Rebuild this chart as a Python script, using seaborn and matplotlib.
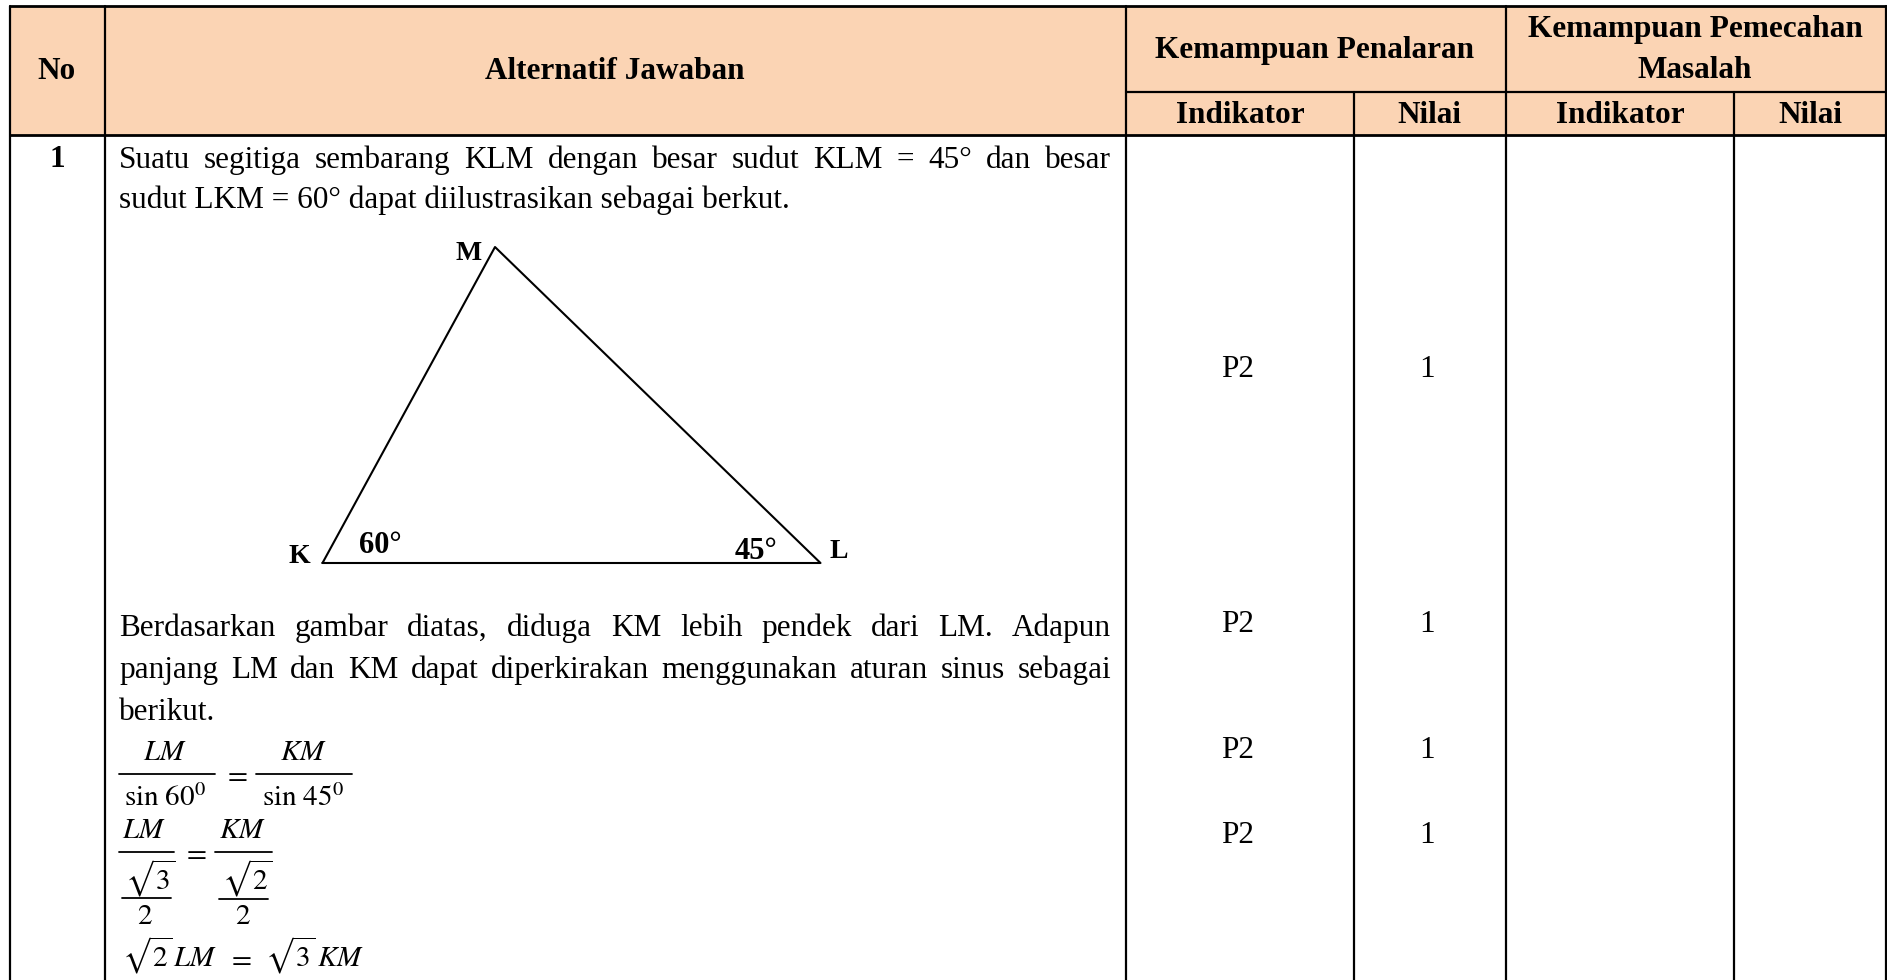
import matplotlib
matplotlib.use("Agg")
import matplotlib.pyplot as plt
import pandas as pd
import seaborn as sns

# table content
header_main = ["No", "Alternatif Jawaban"]
header_penalaran = "Kemampuan Penalaran"
header_pemecahan = ["Kemampuan Pemecahan", "Masalah"]
header_sub = ["Indikator", "Nilai", "Indikator", "Nilai"]
row_no = "1"
indikator = ["P2", "P2", "P2", "P2"]
nilai = ["1", "1", "1", "1"]
intro_lines = [
    "Suatu segitiga sembarang KLM dengan besar sudut KLM = 45° dan besar",
    "sudut LKM = 60° dapat diilustrasikan sebagai berkut.",
]
para_lines = [
    "Berdasarkan gambar diatas, diduga KM lebih pendek dari LM. Adapun",
    "panjang LM dan KM dapat diperkirakan menggunakan aturan sinus sebagai",
    "berikut.",
]

# triangle drawing
tri_x = [322.5, 495, 820.5, 322.5]
tri_y = [563, 247, 563, 563]

HEAD = "#FBD4B4"
FONT = "Liberation Serif"
FS = 22.5
LW = 1.6

sns.set_theme(style="white")
plt.rcParams["font.family"] = [FONT, "DejaVu Serif"]
plt.rcParams["mathtext.fontset"] = "stix"

fig = plt.figure(figsize=(18.87, 9.8), dpi=100)
ax = fig.add_axes([0, 0, 1, 1])
ax.set_xlim(0, 1887)
ax.set_ylim(980, 0)
ax.axis("off")

# column and row edges in pixels
cols = [10, 104.5, 1126, 1354, 1506, 1734, 1885.5]
top, mid, head_bot, bottom = 6, 92.5, 135.5, 980

ax.fill_between([cols[0], cols[-1]], top, head_bot, color=HEAD, lw=0, zorder=0)
for x in [cols[0], cols[1], cols[2], cols[4], cols[6]]:
    ax.plot([x, x], [top, bottom], color="black", lw=LW, zorder=2)
for x in [cols[3], cols[5]]:
    ax.plot([x, x], [mid, bottom], color="black", lw=LW, zorder=2)
ax.plot([cols[0], cols[-1]], [top, top], color="black", lw=LW + 0.4, zorder=2)
ax.plot([cols[0], cols[-1]], [head_bot, head_bot], color="black", lw=LW + 0.4, zorder=2)
ax.plot([cols[2], cols[-1]], [mid, mid], color="black", lw=LW, zorder=2)


def put(x, y, s, ha="center", bold=False, size=FS, **kw):
    return ax.text(x, y, s, ha=ha, va="baseline", fontsize=size,
                   fontweight="bold" if bold else "normal", color="black", **kw)


def justified(line, x0, x1, y, stretch=True):
    words = line.split(" ")
    if not stretch:
        put(x0, y, line, ha="left")
        return
    rend = fig.canvas.get_renderer()
    items = [put(0, y, w, ha="left") for w in words]
    widths = [t.get_window_extent(rend).width for t in items]
    gap = (x1 - x0 - sum(widths)) / (len(words) - 1)
    x = x0
    for t, w in zip(items, widths):
        t.set_x(x)
        x += w + gap


# header
put(57, 79, header_main[0], bold=True)
put(615, 79, header_main[1], bold=True)
put(1315, 58, header_penalaran, bold=True)
put(1695, 37, header_pemecahan[0], bold=True)
put(1695, 78, header_pemecahan[1], bold=True)
for x, s in zip([1240, 1429, 1620, 1810], header_sub):
    put(x, 123, s, bold=True)

# body
put(57, 167, row_no, bold=True)
justified(intro_lines[0], 119, 1111, 168)
justified(intro_lines[1], 119, 1111, 208, stretch=False)
justified(para_lines[0], 119, 1111, 636)
justified(para_lines[1], 119, 1111, 678)
justified(para_lines[2], 119, 1111, 720, stretch=False)

for y, ind, val in zip([377, 632, 758, 843], indikator, nilai):
    put(1238, y, ind)
    put(1427, y, val)

# triangle
tri = pd.DataFrame({"x": tri_x, "y": tri_y, "seg": range(len(tri_x))})
sns.lineplot(data=tri, x="x", y="y", sort=False, estimator=None, color="black",
             lw=1.5, ax=ax, legend=False)
ax.axis("off")
put(469, 260, "M", bold=True, size=20)
put(299.5, 563, "K", bold=True, size=20)
put(839, 558, "L", bold=True, size=20)
put(380, 553, "60°", bold=True, size=22)
put(756, 559, "45°", bold=True, size=22)

# worked equations
MF = 21


def frac_bar(x0, x1, y):
    ax.plot([x0, x1], [y, y], color="black", lw=1.3)


def eq(x, y, s, ha="center"):
    ax.text(x, y, s, ha=ha, va="baseline", fontsize=MF, color="black")


frac_bar(119, 215, 774)
eq(165, 760, r"$LM$")
eq(165, 806, r"$\sin\,60^0$")
eq(235, 782, r"$=$")
frac_bar(256, 352, 774)
eq(303, 760, r"$KM$")
eq(303, 806, r"$\sin\,45^0$")

frac_bar(119, 174, 852)
eq(144, 838, r"$LM$")
eq(194, 860, r"$=$")
frac_bar(215, 272, 852)
eq(242, 838, r"$KM$")
eq(150, 889, r"$\sqrt{3}$")
frac_bar(122, 171, 898)
eq(145, 924, r"$2$")
eq(247, 889, r"$\sqrt{2}$")
frac_bar(219, 268, 899)
eq(243, 924, r"$2$")

eq(147, 966, r"$\sqrt{2}$")
eq(195, 966, r"$LM$")
eq(239, 966, r"$=$")
eq(290, 966, r"$\sqrt{3}$")
eq(340, 966, r"$KM$")

fig.savefig("out.png", dpi=100, facecolor="white")
